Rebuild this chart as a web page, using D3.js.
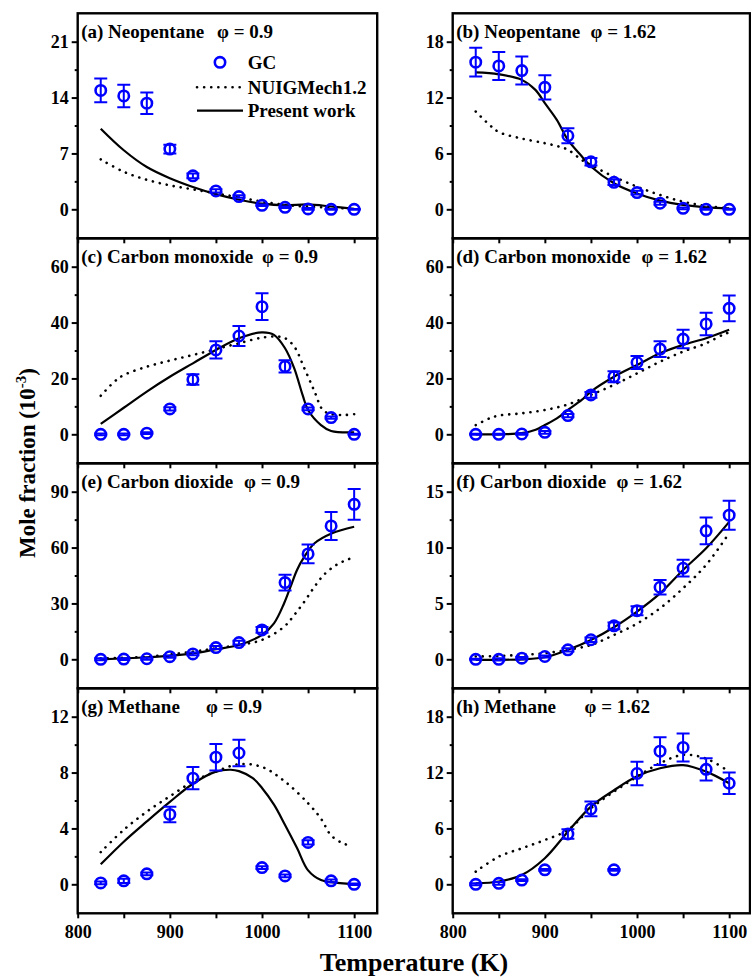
<!DOCTYPE html>
<html><head><meta charset="utf-8">
<script src="https://cdn.jsdelivr.net/npm/d3@7"></script>
<style>
html,body{margin:0;padding:0;background:#fff;}
svg text{font-family:"Liberation Serif","Times New Roman",serif;font-weight:bold;fill:#000;}
</style></head>
<body><svg id="c" width="751" height="977"></svg>
<script>
// ---------- data ----------
const temps = [825,850,875,900,925,950,975,1000,1025,1050,1075,1100];
const xTickValues = [800,850,900,950,1000,1050,1100];
const xTickLabels = ["800","","900","","1000","","1100"];

const panelLabels = ["(a) Neopentane","(b) Neopentane","(c) Carbon monoxide","(d) Carbon monoxide",
                     "(e) Carbon dioxide","(f) Carbon dioxide","(g) Methane","(h) Methane"];
const phiLabels = ["φ = 0.9","φ = 1.62","φ = 0.9","φ = 1.62","φ = 0.9","φ = 1.62","φ = 0.9","φ = 1.62"];
const yTickSets = [[0,7,14,21],[0,6,12,18],[0,20,40,60],[0,20,40,60],[0,30,60,90],[0,5,10,15],[0,4,8,12],[0,6,12,18]];

const gcA = [14.9,14.2,13.3,7.55,4.2,2.3,1.6,0.5,0.25,0.05,0,0];
const errA = [1.5,1.4,1.35,0.55,0.3,0.2,0.15,0.1,0.1,0.1,0.05,0.05];
const gcB = [15.8,15.4,14.9,13.1,7.9,5.1,2.9,1.8,0.65,0.1,0,0];
const errB = [1.55,1.5,1.5,1.3,0.8,0.4,0.3,0.2,0.15,0.1,0.05,0.05];
const gcC = [0,0,0.4,9.1,19.6,30.2,35.2,45.7,24.3,9.1,6.0,0];
const errC = [0.3,0.3,0.3,0.6,1.9,3.1,3.6,4.8,2.2,0.5,0.4,0.2];
const gcD = [0,0,0.1,0.7,6.7,14.1,20.6,25.7,30.5,34.1,39.5,45.1];
const errD = [0.2,0.2,0.3,0.5,0.6,1.0,2.0,2.3,2.8,3.3,4.0,4.6];
const gcE = [0,0.1,0.3,1.4,2.9,6.3,9.0,15.8,41.2,56.6,71.6,83.2];
const errE = [0.5,0.5,0.5,0.6,0.7,0.8,1.0,1.5,4.2,5.0,7.5,8.3];
const gcF = [0,0,0.1,0.25,0.85,1.75,3.0,4.35,6.45,8.15,11.5,12.9];
const errF = [0.05,0.1,0.1,0.1,0.15,0.2,0.3,0.4,0.65,0.75,1.2,1.3];
const gcG = [0.1,0.25,0.75,5.0,7.6,9.1,9.4,1.2,0.6,3.0,0.25,0];
const errG = [0.1,0.15,0.1,0.55,0.8,0.95,0.95,0.1,0.1,0.15,0.1,0.05];
const gcH = [0,0.1,0.45,1.55,5.4,8.1,1.55,11.9,14.3,14.7,12.35,10.85];
const errH = [0.1,0.15,0.1,0.1,0.5,0.8,0.1,1.25,1.5,1.5,1.2,1.15];

// Present work (solid) curves
const solidAT = [825,850,875,900,925,950,975,1000,1025,1050,1075,1100];
const solidAV = [10.1,7.4,5.3,3.9,2.8,1.9,1.2,0.7,0.5,0.62,0.35,0.05];
const solidBT = [825,850,875,890,900,913,925,940,950,975,1000,1025,1050,1075,1100];
const solidBV = [14.7,14.5,13.9,12.8,11.4,9.6,7.45,5.7,4.6,2.8,1.7,0.93,0.47,0.21,0.1];
const solidCT = [825,850,875,900,925,950,975,1000,1013,1025,1035,1044,1050,1064,1075,1100];
const solidCV = [3.7,9.5,15.3,20.6,25.4,30.2,34.4,36.5,35.6,30.8,23.6,14.1,8.7,3.3,1.2,0.7];
const solidDT = [825,850,875,890,900,913,925,940,950,975,1000,1025,1050,1075,1100];
const solidDV = [0,0,0.4,1.6,3.3,5.7,8.7,12.3,15.3,20.6,24.8,29,32,34.4,37.4];
const solidET = [825,875,925,950,975,1000,1013,1024,1031,1038,1046,1057,1076,1100];
const solidEV = [0,1.1,3.2,5.4,7.7,13.1,19.3,30.1,39,48,55.1,62.3,67.7,71.2];
const solidFT = [825,850,875,900,925,950,975,1000,1025,1050,1075,1100];
const solidFV = [-0.05,-0.05,0,0.18,0.85,1.73,2.87,4.27,5.9,8.0,9.94,12.3];
const solidGT = [825,850,875,900,925,950,966,975,990,1000,1013,1025,1038,1050,1064,1075,1100];
const solidGV = [1.43,3.05,4.5,5.9,7.2,8.07,8.2,8.1,7.6,6.9,5.7,4.25,2.6,1.0,0.3,0.15,0];
const solidHT = [825,850,875,900,925,950,975,1000,1025,1050,1075,1100];
const solidHV = [0.1,0.3,1.0,2.8,5.65,8.35,10.1,11.6,12.46,12.8,12.1,10.85];

// NUIGMech1.2 (dotted) curves
const dotAT = [825,850,875,900,925,950,975,1000,1025,1050,1075,1100];
const dotAV = [6.25,4.7,3.7,3.0,2.5,2.0,1.5,0.96,0.55,0.33,0.2,0.04];
const dotBT = [825,840,850,875,900,913,925,940,950,975,1000,1025,1050,1075,1100];
const dotBV = [10.5,9.06,8.3,7.6,7.1,6.8,6.4,5.3,4.76,3.5,2.43,1.54,0.82,0.36,0.1];
const dotCT = [825,840,850,875,900,925,950,975,1000,1017,1025,1035,1046,1057,1066,1075,1089,1100];
const dotCV = [13.8,18.9,21.2,24.2,26.4,28.4,30.5,32.6,34.6,35.0,34.4,31.4,23.6,15.3,8.7,7.2,6.9,7.2];
const dotDT = [825,840,850,875,900,925,950,975,1000,1025,1050,1075,1093,1100];
const dotDV = [3.3,5.7,6.7,7.5,8.7,10.7,14.1,17.7,21.8,26,29.6,32.6,35.6,36.5];
const dotET = [825,875,925,950,975,1000,1024,1035,1046,1057,1067,1078,1089,1100];
const dotEV = [0.5,1.4,4.1,5.9,7.7,10.4,17.5,23.8,31,39,45.3,49.8,52.8,54.8];
const dotFT = [825,850,875,900,925,950,975,1000,1025,1050,1075,1100];
const dotFV = [0.25,0.3,0.4,0.54,0.85,1.28,2.18,3.2,4.57,6.36,8.45,11.3];
const dotGT = [825,850,875,900,925,950,975,1000,1025,1050,1064,1075,1089,1096];
const dotGV = [2.3,3.9,5.2,6.3,7.35,8.07,8.6,8.4,7.35,5.8,4.7,3.5,2.9,2.8];
const dotHT = [825,850,875,900,925,950,975,1000,1025,1050,1075,1100];
const dotHV = [1.36,2.97,3.87,4.76,5.84,8.16,9.95,11.56,13.0,13.9,13.5,12.1];

const legendLabels = ["GC","NUIGMech1.2","Present work"];
const xAxisTitle = "Temperature (K)";

// ---------- layout ----------
const BLUE = "#0000ff";
const gcs = [gcA,gcB,gcC,gcD,gcE,gcF,gcG,gcH];
const errs = [errA,errB,errC,errD,errE,errF,errG,errH];
const solids = [[solidAT,solidAV],[solidBT,solidBV],[solidCT,solidCV],[solidDT,solidDV],[solidET,solidEV],[solidFT,solidFV],[solidGT,solidGV],[solidHT,solidHV]];
const dots = [[dotAT,dotAV],[dotBT,dotBV],[dotCT,dotCV],[dotDT,dotDV],[dotET,dotEV],[dotFT,dotFV],[dotGT,dotGV],[dotHT,dotHV]];
const phiEnds = [273,656,318,707,300,682,262,650];

const colX = [{x0:77.7, x1:377.2, dmax:1125},{x0:452.7, x1:750, dmax:1122.6}];
const rowTop = [13.3,238.3,463.3,688.3];
const PH = 225;

const svg = d3.select("#c");

for (let i=0;i<8;i++){
  const col = i%2, row = Math.floor(i/2);
  const C = colX[col], top = rowTop[row];
  const x = d3.scaleLinear().domain([800, C.dmax]).range([C.x0, C.x1]);
  const ticks = yTickSets[i];
  const T = ticks[ticks.length-1];
  const y = d3.scaleLinear().domain([0,T]).range([top+196, top+28.4]);
  const g = svg.append("g");
  const clipId = "clip"+i;
  svg.append("clipPath").attr("id",clipId).append("rect")
     .attr("x",C.x0).attr("y",top).attr("width",C.x1-C.x0).attr("height",PH);

  // y axis major
  const yAx = g.append("g").attr("transform",`translate(${C.x0},0)`)
    .call(d3.axisLeft(y).tickValues(ticks).tickSize(6).tickPadding(3).tickFormat(d3.format("d")));
  yAx.select(".domain").remove();
  yAx.selectAll("line").attr("stroke","#000").attr("stroke-width",2);
  yAx.selectAll("text").style("font-size","18px").attr("dy","0.34em");
  // y minor
  const minors = [];
  for (let k=0;k<ticks.length-1;k++) minors.push((ticks[k]+ticks[k+1])/2);
  const yMin = g.append("g").attr("transform",`translate(${C.x0},0)`)
    .call(d3.axisLeft(y).tickValues(minors).tickSize(3).tickFormat(""));
  yMin.select(".domain").remove();
  yMin.selectAll("line").attr("stroke","#000").attr("stroke-width",2);

  // x axis
  const isBottom = row===3;
  const xAx = g.append("g").attr("transform",`translate(0,${top+PH})`)
    .call(d3.axisBottom(x).tickValues(xTickValues).tickSize(5).tickPadding(7)
      .tickFormat((d,j)=> isBottom ? xTickLabels[j] : ""));
  xAx.select(".domain").remove();
  xAx.selectAll("line").attr("stroke","#000").attr("stroke-width",2);
  xAx.selectAll("text").style("font-size","18px");

  // curves
  const lineGen = d3.line().x(d=>x(d[0])).y(d=>y(d[1])).curve(d3.curveCatmullRom.alpha(0.5));
  const dd = dots[i][0].map((t,k)=>[t,dots[i][1][k]]);
  const sd = solids[i][0].map((t,k)=>[t,solids[i][1][k]]);
  const plot = g.append("g").attr("clip-path",`url(#${clipId})`);
  plot.append("path").attr("d",lineGen(dd)).attr("fill","none").attr("stroke","#000")
    .attr("stroke-width",2.6).attr("stroke-linecap","round").attr("stroke-dasharray","0.1,7");
  plot.append("path").attr("d",lineGen(sd)).attr("fill","none").attr("stroke","#000")
    .attr("stroke-width",2.2);

  // GC points
  const pts = temps.map((t,k)=>({t, v:gcs[i][k], e:errs[i][k]}));
  const pg = plot.append("g");
  pg.selectAll("circle").data(pts).join("circle")
    .attr("cx",d=>x(d.t)).attr("cy",d=>y(d.v)).attr("r",5.2)
    .attr("fill","none").attr("stroke",BLUE).attr("stroke-width",2.6);
  const eb = pg.selectAll("g.eb").data(pts).join("g").attr("class","eb");
  eb.append("line").attr("x1",d=>x(d.t)).attr("x2",d=>x(d.t))
    .attr("y1",d=>y(d.v+d.e)).attr("y2",d=>y(d.v-d.e)).attr("stroke",BLUE).attr("stroke-width",2);
  eb.append("line").attr("x1",d=>x(d.t)-6.5).attr("x2",d=>x(d.t)+6.5)
    .attr("y1",d=>y(d.v+d.e)).attr("y2",d=>y(d.v+d.e)).attr("stroke",BLUE).attr("stroke-width",2);
  eb.append("line").attr("x1",d=>x(d.t)-6.5).attr("x2",d=>x(d.t)+6.5)
    .attr("y1",d=>y(d.v-d.e)).attr("y2",d=>y(d.v-d.e)).attr("stroke",BLUE).attr("stroke-width",2);

  // frame
  g.append("rect").attr("x",C.x0).attr("y",top).attr("width",C.x1-C.x0).attr("height",PH)
    .attr("fill","none").attr("stroke","#000").attr("stroke-width",2.4);

  // panel title
  g.append("text").attr("x",C.x0+3.5).attr("y",top+25).style("font-size","19px").text(panelLabels[i]);
  g.append("text").attr("x",phiEnds[i]).attr("y",top+25).attr("text-anchor","end")
    .style("font-size","19px").text(phiLabels[i]);

  // legend in (a)
  if (i===0){
    const lg = g.append("g");
    lg.append("circle").attr("cx",220).attr("cy",62.3).attr("r",5.2).attr("fill","none")
      .attr("stroke",BLUE).attr("stroke-width",2.6);
    lg.append("line").attr("x1",197).attr("x2",243).attr("y1",87.3).attr("y2",87.3)
      .attr("stroke","#000").attr("stroke-width",2.6).attr("stroke-linecap","round").attr("stroke-dasharray","0.1,7");
    lg.append("line").attr("x1",197).attr("x2",243).attr("y1",110.7).attr("y2",110.7)
      .attr("stroke","#000").attr("stroke-width",2.2);
    [62.3,87.3,110.7].forEach((yy,k)=>{
      lg.append("text").attr("x",247.7).attr("y",yy+6.5).style("font-size","19px").text(legendLabels[k]);
    });
  }
}

// axis titles
svg.append("text").attr("x",414).attr("y",971).attr("text-anchor","middle")
  .style("font-size","26px").text(xAxisTitle);
const yt = svg.append("text").attr("transform","translate(35,463) rotate(-90)")
  .attr("text-anchor","middle").style("font-size","23px");
yt.append("tspan").text("Mole fraction (10");
yt.append("tspan").attr("dy",-9).style("font-size","15px").text("-3");
yt.append("tspan").attr("dy",9).text(")");
</script>
</body></html>
